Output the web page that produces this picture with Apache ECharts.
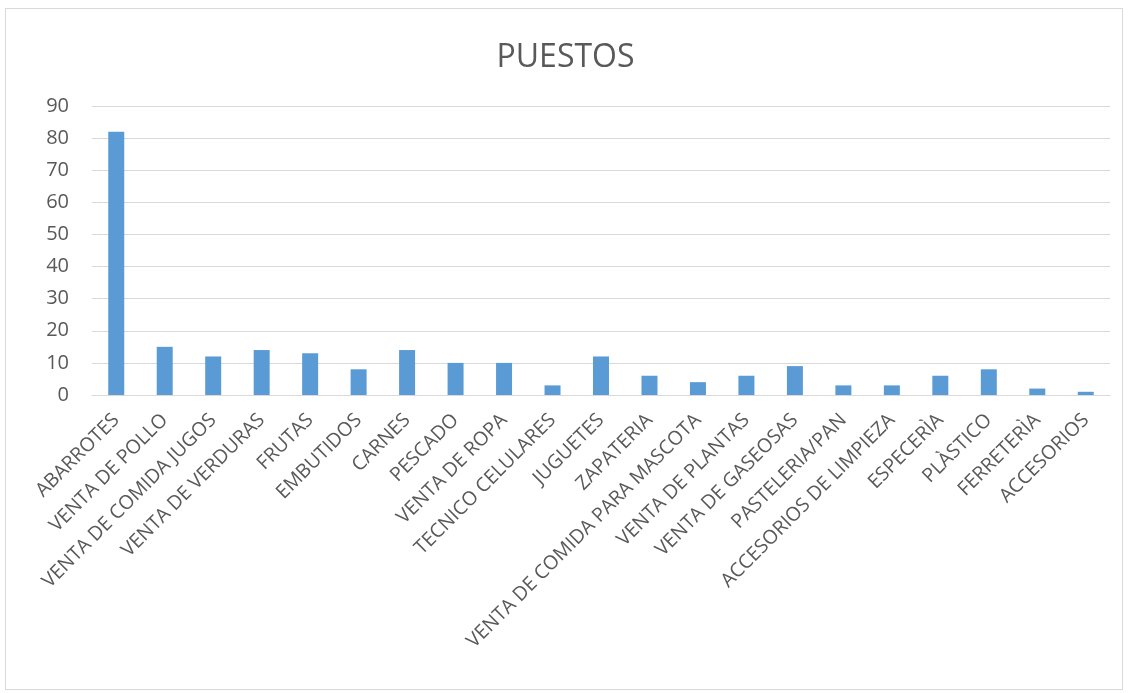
<!DOCTYPE html>
<html>
<head>
<meta charset="utf-8">
<script src="https://cdn.jsdelivr.net/npm/echarts@6/dist/echarts.min.js"></script>
<style>
html,body{margin:0;padding:0;background:#fff;}
#frame{position:absolute;left:5px;top:8px;width:1118px;height:682px;border:1px solid #d9d9d9;box-sizing:border-box;}
#chart{position:absolute;left:0;top:0;width:1131px;height:693px;}
</style>
</head>
<body>
<div id="frame"></div>
<div id="chart"></div>
<script>
const categories = ["ABARROTES","VENTA DE POLLO","VENTA DE COMIDA JUGOS","VENTA DE VERDURAS","FRUTAS","EMBUTIDOS","CARNES","PESCADO","VENTA DE ROPA","TECNICO CELULARES","JUGUETES","ZAPATERIA","VENTA DE COMIDA PARA MASCOTA","VENTA DE PLANTAS","VENTA DE GASEOSAS","PASTELERIA/PAN","ACCESORIOS DE LIMPIEZA","ESPECERÌA","PLÀSTICO","FERRETERÌA","ACCESORIOS"];
const puestos = [82,15,12,14,13,8,14,10,10,3,12,6,4,6,9,3,3,6,8,2,1];
const yTicks = [0,10,20,30,40,50,60,70,80,90];

const chart = echarts.init(document.getElementById('chart'));
chart.setOption({
  animation:false,
  backgroundColor:'transparent',
  title:{text:'PUESTOS',left:'center',top:37,textStyle:{fontFamily:'Open Sans',fontSize:32,fontWeight:'normal',color:'#595959'}},
  grid:{left:92,right:21,top:106,bottom:298,containLabel:false},
  xAxis:{type:'category',data:categories,
    axisLine:{lineStyle:{color:'#d9d9d9',width:1}},
    axisTick:{show:false},
    axisLabel:{interval:0,rotate:45,color:'#595959',fontFamily:'Open Sans',fontSize:19.5,margin:22}
  },
  yAxis:{type:'value',min:yTicks[0],max:yTicks[yTicks.length-1],interval:10,
    axisLine:{show:false},axisTick:{show:false},
    axisLabel:{color:'#595959',fontFamily:'Open Sans',fontSize:20,margin:23},
    splitLine:{lineStyle:{color:'#d9d9d9',width:1}}
  },
  series:[{type:'bar',data:puestos,barWidth:'33%',itemStyle:{color:'#5b9bd5'}}]
});
</script>
</body>
</html>
